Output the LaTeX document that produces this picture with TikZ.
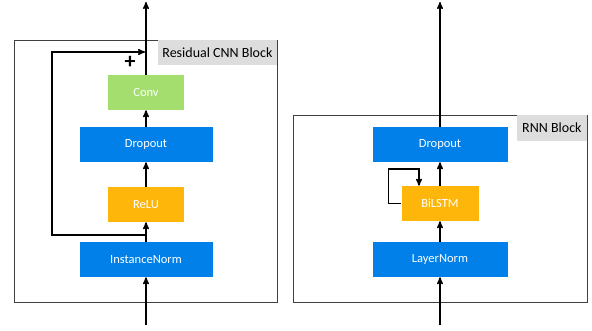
\documentclass[tikz,border=0pt]{standalone}
\usepackage{fontspec}
\setmainfont{Carlito}
\usetikzlibrary{positioning, arrows}

\definecolor{layerblue}{HTML}{0080E8}
\definecolor{layerorange}{HTML}{FFB60A}
\definecolor{layergreen}{HTML}{A3DE6E}
\definecolor{tagbg}{HTML}{DDDDDD}

\begin{document}
\begin{tikzpicture}[x=1pt, y=-1pt, >=stealth', semithick,
    layer/.style={rectangle, inner sep=0pt, minimum height=35pt, text=white, font=\fontsize{12.5}{14}\selectfont},
    wide/.style={layer, fill=layerblue, minimum width=133pt},
    narrow/.style={layer, minimum width=76pt},
    panel/.style={rectangle, draw=black!75, thin, inner sep=0pt},
    tag/.style={rectangle, fill=tagbg, inner sep=0pt, minimum height=25pt, font=\fontsize{14}{16}\selectfont, anchor=north east},
    flow/.style={->, line width=1.4pt}]
    \useasboundingbox (0,0) rectangle (592,331);

    % residual cnn block
    \node[panel, minimum width=263pt, minimum height=262pt] (cnnblock) at (145.5,171) {};
    \node[tag, minimum width=119pt] (cnntag) at (cnnblock.north east) {Residual CNN Block};
    \node[narrow, fill=layergreen] (conv) at (146,92.5) {Conv};
    \node[wide] (drop1) at (146,144.5) {Dropout};
    \node[narrow, fill=layerorange] (relu) at (146,204.5) {ReLU};
    \node[wide] (inorm) at (146,259.5) {InstanceNorm};
    \coordinate (in1) at (146,325);
    \coordinate (out1) at (146,2);
    \coordinate (skip) at (146,235);
    \coordinate (skipend) at (145,52);
    \node[font=\fontsize{22}{22}\selectfont\bfseries] (plus) at (130,62) {+};

    \draw[flow] (in1) -- (inorm);
    \draw[flow] (inorm) -- (relu);
    \draw[flow] (relu) -- (drop1);
    \draw[flow] (drop1) -- (conv);
    \draw[flow] (conv) -- (out1);
    \draw[flow] (skip) -- ++(-94,0) |- (skipend);

    % rnn block
    \node[panel, minimum width=294pt, minimum height=187pt] (rnnblock) at (440,208.5) {};
    \node[tag, minimum width=70pt, minimum height=26pt] (rnntag) at (rnnblock.north east) {RNN Block};
    \node[wide, minimum width=135pt] (drop2) at (440,144.5) {Dropout};
    \node[narrow, minimum width=77pt, fill=layerorange] (bilstm) at (440,203.5) {BiLSTM};
    \node[wide, minimum width=135pt] (lnorm) at (440,259.5) {LayerNorm};
    \coordinate (in2) at (440,325);
    \coordinate (out2) at (440,2);

    \draw[flow] (in2) -- (lnorm);
    \draw[flow] (lnorm) -- (bilstm);
    \draw[flow] (bilstm) -- (drop2);
    \draw[flow] (drop2) -- (out2);
    \draw[flow] (bilstm.west) -- ++(-13,0) |- ([xshift=-21pt]bilstm.north |- 0,169) -- ([xshift=-21pt]bilstm.north);
\end{tikzpicture}
\end{document}
